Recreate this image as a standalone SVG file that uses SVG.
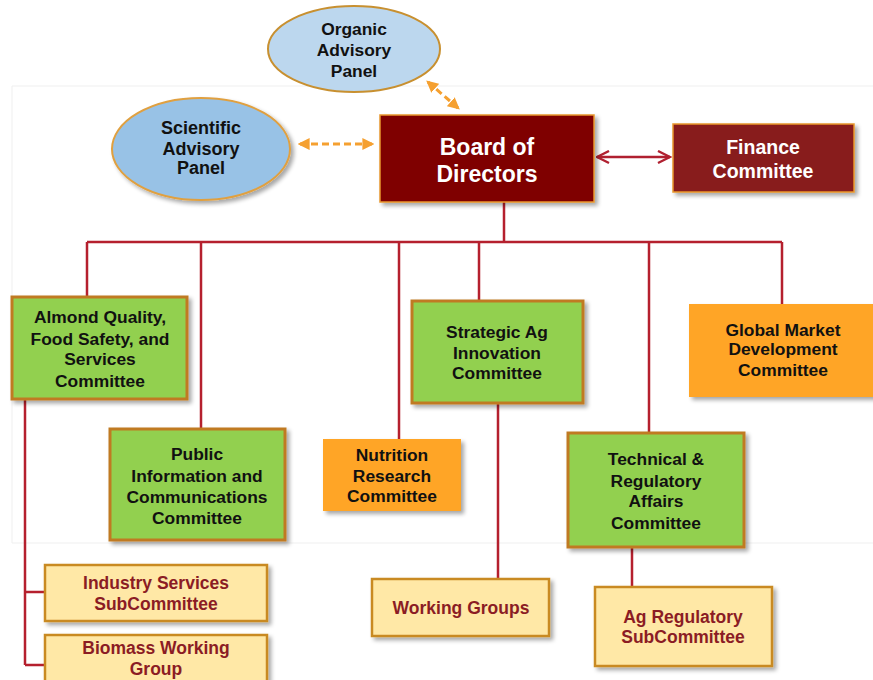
<svg xmlns="http://www.w3.org/2000/svg" width="873" height="680" viewBox="0 0 873 680">
<defs>
<filter id="sh" x="-10%" y="-10%" width="130%" height="130%">
<feGaussianBlur in="SourceAlpha" stdDeviation="2"/>
<feOffset dx="3" dy="3" result="b"/>
<feComponentTransfer><feFuncA type="linear" slope="0.35"/></feComponentTransfer>
<feMerge><feMergeNode/><feMergeNode in="SourceGraphic"/></feMerge>
</filter>
<marker id="oa" viewBox="0 0 10 10" refX="8" refY="5" markerWidth="4" markerHeight="4" orient="auto-start-reverse">
<path d="M0,0 L10,5 L0,10 z" fill="#f5a030"/>
</marker>
<marker id="ra" viewBox="0 0 10 10" refX="9" refY="5" markerWidth="6" markerHeight="6" orient="auto-start-reverse">
<path d="M1,1 L9,5 L1,9" fill="none" stroke="#b02030" stroke-width="1.6"/>
</marker>
</defs>
<style>
text{font-family:"Liberation Sans",Arial,sans-serif;font-weight:bold;text-anchor:middle}
.dk{fill:#111;font-size:17.4px}
.wt{fill:#fff}
.sub{fill:#8b1c24;font-size:17.5px}
.grn{fill:#92d050;stroke:#c07a20;stroke-width:3}
.org{fill:#ffa528}
.yel{fill:#ffe8a6;stroke:#c98a24;stroke-width:2.5}
.ln{stroke:#b5202e;stroke-width:2.5;fill:none}
.dash{stroke:#f5a030;stroke-width:3;stroke-dasharray:7 4;fill:none}
.edge{stroke:#efefef;stroke-width:1;fill:none}
</style>
<rect width="873" height="680" fill="#fff"/>
<g id="background">
<path class="edge" d="M12,86 H873 M12,543 H873 M12,86 V543"/>
</g>
<g id="connectors">
<path class="ln" d="M504,202 V242 M87,242 H782 M87,242 V297 M201,242 V429 M399,242 V439 M479,242 V302 M649,242 V434 M782,242 V305"/>
<path class="ln" d="M25,399 V665 M25,592 H45 M25,665 H45"/>
<path class="ln" d="M498,403 V579 M632,547 V587"/>
<line x1="597" y1="157" x2="670" y2="157" stroke="#b02030" stroke-width="2.5" marker-start="url(#ra)" marker-end="url(#ra)"/>
<line class="dash" x1="300" y1="144" x2="372" y2="144" marker-start="url(#oa)" marker-end="url(#oa)"/>
<line class="dash" x1="428" y1="82" x2="458" y2="108" marker-start="url(#oa)" marker-end="url(#oa)"/>
</g>
<g id="organic">
<ellipse cx="354" cy="49" rx="86" ry="43" fill="#bcd7ee" stroke="#c89030" stroke-width="2"/>
<text class="dk" x="354" y="35">Organic</text>
<text class="dk" x="354" y="56">Advisory</text>
<text class="dk" x="354" y="77">Panel</text>
</g>
<g id="scientific">
<ellipse cx="201" cy="149" rx="89" ry="51" fill="#98c2e6" stroke="#e0a040" stroke-width="2" filter="url(#sh)"/>
<text class="dk" style="font-size:18px" x="201" y="134">Scientific</text>
<text class="dk" style="font-size:18px" x="201" y="155">Advisory</text>
<text class="dk" style="font-size:18px" x="201" y="174">Panel</text>
</g>
<g id="board">
<rect x="380" y="115" width="214" height="87" fill="#7f0000" stroke="#e8962c" stroke-width="1.5" filter="url(#sh)"/>
<text class="wt" style="font-size:23px" x="487" y="155">Board of</text>
<text class="wt" style="font-size:23px" x="487" y="182">Directors</text>
</g>
<g id="finance">
<rect x="673" y="124" width="181" height="68" fill="#881c1c" stroke="#e8962c" stroke-width="1.5" filter="url(#sh)"/>
<text class="wt" style="font-size:19.5px" x="763" y="154">Finance</text>
<text class="wt" style="font-size:19.5px" x="763" y="178">Committee</text>
</g>
<g id="almond">
<rect class="grn" x="12" y="297" width="175" height="102" filter="url(#sh)"/>
<text class="dk" x="100" y="323">Almond Quality,</text>
<text class="dk" x="100" y="345">Food Safety, and</text>
<text class="dk" x="100" y="365">Services</text>
<text class="dk" x="100" y="387">Committee</text>
</g>
<g id="public">
<rect class="grn" x="110" y="429" width="175" height="111" filter="url(#sh)"/>
<text class="dk" x="197" y="460">Public</text>
<text class="dk" x="197" y="482">Information and</text>
<text class="dk" x="197" y="503">Communications</text>
<text class="dk" x="197" y="524">Committee</text>
</g>
<g id="nutrition">
<rect class="org" x="323" y="439" width="138" height="72" filter="url(#sh)"/>
<text class="dk" x="392" y="461">Nutrition</text>
<text class="dk" x="392" y="482">Research</text>
<text class="dk" x="392" y="502">Committee</text>
</g>
<g id="strategic">
<rect class="grn" x="412" y="301" width="171" height="102" filter="url(#sh)"/>
<text class="dk" x="497" y="338">Strategic Ag</text>
<text class="dk" x="497" y="359">Innovation</text>
<text class="dk" x="497" y="379">Committee</text>
</g>
<g id="global">
<rect class="org" x="689" y="304" width="190" height="93" filter="url(#sh)"/>
<text class="dk" x="783" y="336">Global Market</text>
<text class="dk" x="783" y="355">Development</text>
<text class="dk" x="783" y="376">Committee</text>
</g>
<g id="technical">
<rect class="grn" x="568" y="433" width="176" height="114" filter="url(#sh)"/>
<text class="dk" x="656" y="465">Technical &amp;</text>
<text class="dk" x="656" y="487">Regulatory</text>
<text class="dk" x="656" y="507">Affairs</text>
<text class="dk" x="656" y="529">Committee</text>
</g>
<g id="industry">
<rect class="yel" x="45" y="565" width="222" height="56" filter="url(#sh)"/>
<text class="sub" x="156" y="589">Industry Services</text>
<text class="sub" x="156" y="610">SubCommittee</text>
</g>
<g id="biomass">
<rect class="yel" x="45" y="635" width="222" height="60" filter="url(#sh)"/>
<text class="sub" x="156" y="654">Biomass Working</text>
<text class="sub" x="156" y="675">Group</text>
</g>
<g id="working">
<rect class="yel" x="372" y="579" width="177" height="57" filter="url(#sh)"/>
<text class="sub" x="461" y="614">Working Groups</text>
</g>
<g id="agreg">
<rect class="yel" x="595" y="587" width="177" height="79" filter="url(#sh)"/>
<text class="sub" x="683" y="623">Ag Regulatory</text>
<text class="sub" x="683" y="643">SubCommittee</text>
</g>
</svg>
